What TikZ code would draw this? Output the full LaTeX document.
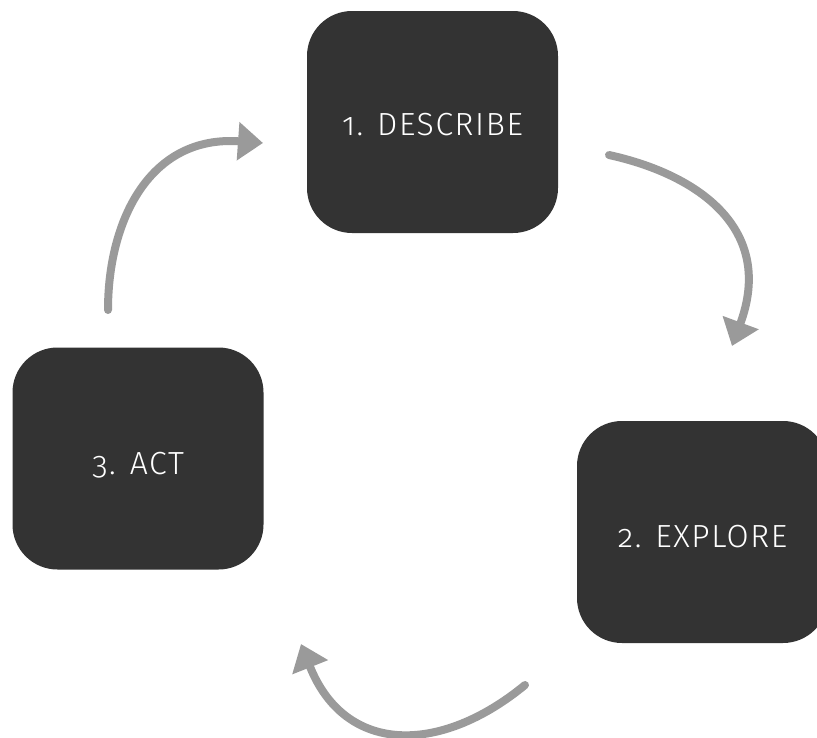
\documentclass[tikz,border=0pt]{standalone}
\usepackage{fontspec}
\setmainfont{Fira Sans Light}[Numbers=OldStyle, LetterSpace=5]
\usetikzlibrary{arrows.meta}
\definecolor{boxfill}{HTML}{333333}
\definecolor{arrowgray}{HTML}{9A9A9A}
\tikzset{
  stepbox/.style={fill=boxfill, draw=none, rounded corners=45pt,
    minimum width=251pt, minimum height=222pt, inner sep=0pt},
  lbl/.style={text=white, font=\fontsize{32}{34}\selectfont, inner sep=0pt, anchor=base},
  cycarrow/.style={draw=arrowgray, line width=8pt, line cap=round,
    -{Triangle[length=25pt, width=37pt]}}
}
\begin{document}
\begin{tikzpicture}[x=1pt, y=-1pt]
\useasboundingbox (0,0) rectangle (817,737);
\clip (0,0) rectangle (817,737);
% boxes
\node[stepbox] (d) at (432.5,122) {};
\node[stepbox] (e) at (702.5,532) {};
\node[stepbox] (a) at (138,458.5) {};
% labels
\node[lbl] (dl) at ([yshift=-13pt]d.center) {1. DESCRIBE};
\node[lbl] (el) at ([yshift=-15pt]e.center) {2. EXPLORE};
\node[lbl] (al) at ([yshift=-16pt]a.center) {3. ACT};
% arrow end points
\coordinate (s1) at (609,155);
\coordinate (t1) at (732,346);
\coordinate (s2) at (525,685);
\coordinate (t2) at (301,644);
\coordinate (s3) at (108,310);
\coordinate (t3) at (263,143);
% arrows
\draw[cycarrow] (s1) .. controls (700,175) and (775,230) .. (t1);
\draw[cycarrow] (s2) .. controls (440,755) and (345,755) .. (t2);
\draw[cycarrow] (s3) .. controls (108,220) and (150,135) .. (t3);
\end{tikzpicture}
\end{document}
